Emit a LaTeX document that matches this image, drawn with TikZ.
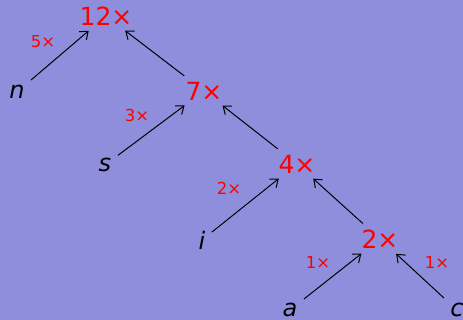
\documentclass[tikz,border=0pt]{standalone}
\usepackage{fontspec}
\usetikzlibrary{arrows.meta}
\setmainfont{DejaVu Sans}
\definecolor{bgblue}{RGB}{142,142,220}
\definecolor{cnt}{RGB}{255,0,0}
\begin{document}
\begin{tikzpicture}[x=1pt,y=-1pt,
  big/.style={text=cnt,font=\fontsize{25}{27}\selectfont,inner sep=4pt},
  leaf/.style={font=\fontsize{24}{26}\selectfont\itshape,inner sep=4pt},
  small/.style={text=cnt,font=\fontsize{16.5}{18}\selectfont,inner sep=0pt},
  edge/.style={-{Straight Barb[length=7pt,width=11pt,line width=1pt]},line width=1pt,shorten <=3pt,shorten >=2pt}]
\fill[bgblue] (0,0) rectangle (463,320);
\useasboundingbox (0,0) rectangle (463,320);
\node[big] (r12) at (106,16) {12×};
\node[leaf] (n) at (17,92) {n};
\node[big] (r7) at (204,91) {7×};
\node[leaf] (s) at (105,165) {s};
\node[big] (r4) at (297,164) {4×};
\node[leaf] (i) at (202,240) {i};
\node[big] (r2) at (380,239) {2×};
\node[leaf] (a) at (290,310) {a};
\node[leaf] (c) at (457,310) {c};
\draw[edge] (n) -- (r12);
\draw[edge] (r7) -- (r12);
\draw[edge] (s) -- (r7);
\draw[edge] (r4) -- (r7);
\draw[edge] (i) -- (r4);
\draw[edge] (r2) -- (r4);
\draw[edge] (a) -- (r2);
\draw[edge] (c) -- (r2);
\node[small] (l5) at (43,42) {5×};
\node[small] (l3) at (137,115) {3×};
\node[small] (l2) at (229,188) {2×};
\node[small] (l1a) at (318,262) {1×};
\node[small] (l1b) at (437,262) {1×};
\end{tikzpicture}
\end{document}
